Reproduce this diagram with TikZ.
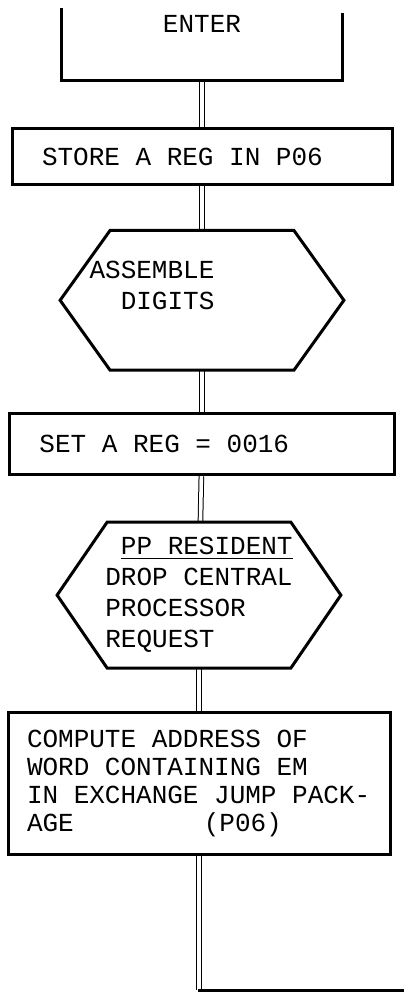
\documentclass[tikz,border=0pt]{standalone}
\usepackage{fontspec}
\usepackage{tikz}
\usetikzlibrary{positioning}
\newfontfamily\flowfont{Liberation Mono}
\tikzset{
  enterbox/.style={rectangle,minimum width=140pt,minimum height=35pt,inner sep=0pt,text height=11pt,text depth=24pt,font=\flowfont\fontsize{13pt}{14pt}\selectfont},
  opbox/.style={rectangle,draw,line width=1.5pt,align=flush left,font=\flowfont\fontsize{13pt}{14pt}\selectfont},
  hexbox/.style={rectangle,minimum width=141.5pt,inner sep=0pt},
  hextext/.style={font=\flowfont\fontsize{13pt}{15.5pt}\selectfont},
  frameline/.style={line width=1.5pt,line cap=rect},
  link/.style={double,double distance=1.8pt,line width=0.5pt}
}
\begin{document}
\begin{tikzpicture}
\useasboundingbox (0,0) rectangle (201.5pt,-501.5pt);
\node[enterbox] (enter) at (101pt,-22.5pt) {ENTER};
\node[opbox,below=23.5pt of enter,minimum width=190pt,minimum height=28pt,inner xsep=15pt,text width=160pt] (store) {STORE A REG IN P06};
\node[hexbox,below=22pt of store,minimum height=69.5pt] (asm) {};
\node[hextext,align=right] (asmtext) at ([xshift=-25pt,yshift=7.5pt]asm.center) {ASSEMBLE\\DIGITS};
\node[opbox,below=21pt of asm,minimum width=192.5pt,minimum height=30.5pt,inner xsep=15pt,text width=162.5pt] (setreg) {SET A REG = 0016};
\node[hexbox,hextext,align=left,below=23pt of setreg,xshift=-1.5pt,minimum height=72.5pt] (drop) {\hphantom{P}\underline{PP RESIDENT}\\DROP CENTRAL\\PROCESSOR\\REQUEST};
\node[opbox,below=21.5pt of drop,minimum width=191pt,minimum height=71pt,inner xsep=9.5pt,text width=172pt] (compute) {COMPUTE ADDRESS OF\\WORD CONTAINING EM\\IN EXCHANGE JUMP PACK-\\AGE\hspace{5em}(P06)};
\coordinate (exit) at (201.5pt,-495pt);
% connectors
\draw[link] (enter) -- (store);
\draw[link] (store) -- (asm);
\draw[link] (asm) -- (setreg);
\draw[link] (setreg) -- (drop);
\draw[link] (drop) -- (compute);
\draw[link] (compute) -- (compute |- exit);
% outlines
\draw[frameline] (enter.north west) |- (enter.south east) -- ([yshift=-2.5pt]enter.north east);
\foreach \h in {asm,drop}
  \draw[frameline] ([xshift=25pt]\h.north west) -- ([xshift=-25pt]\h.north east) -- (\h.east) -- ([xshift=-25pt]\h.south east) -- ([xshift=25pt]\h.south west) -- (\h.west) -- cycle;
\draw[frameline] (compute |- exit) -- (exit);
\end{tikzpicture}
\end{document}
